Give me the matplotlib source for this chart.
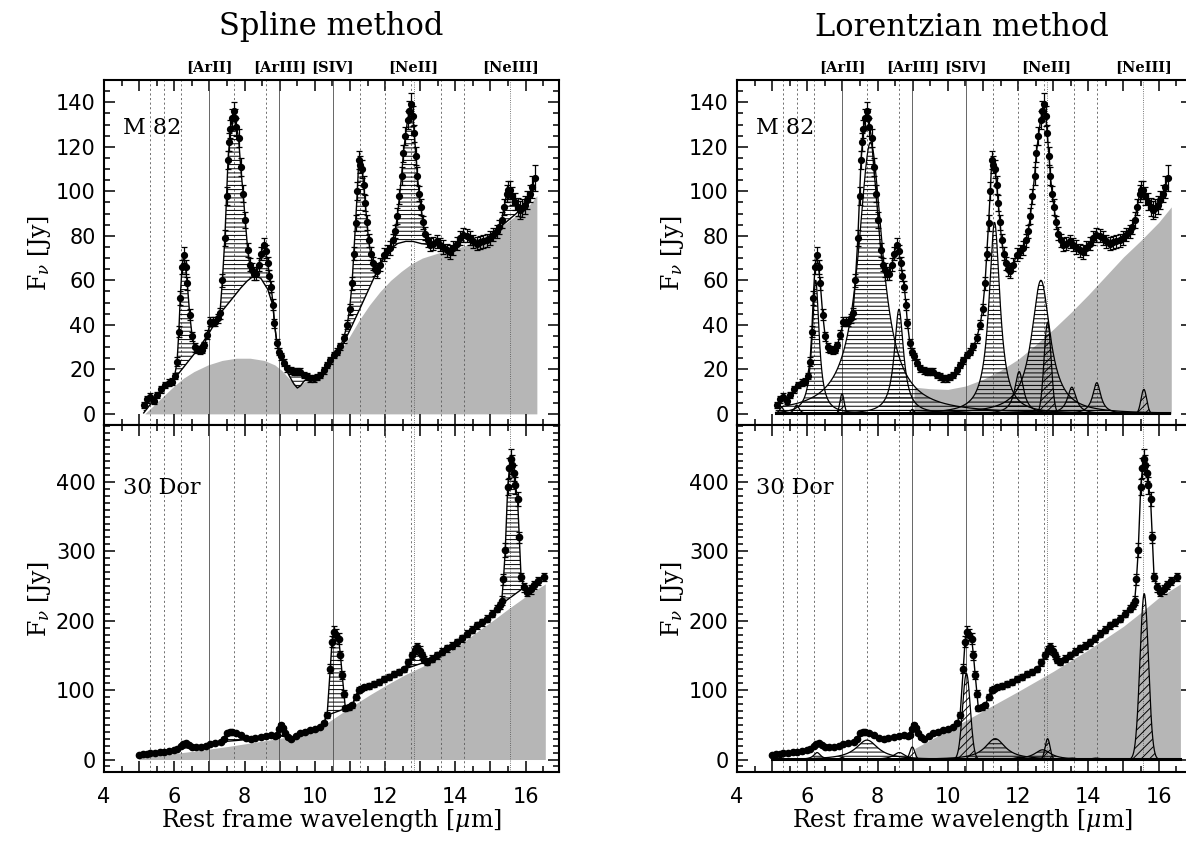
import numpy as np
import matplotlib
matplotlib.use('Agg')
import matplotlib.pyplot as plt
from matplotlib.ticker import MultipleLocator, FuncFormatter
import matplotlib.transforms as mtrans

plt.rcParams['hatch.linewidth'] = 0.7
plt.rcParams['font.family'] = 'DejaVu Sans'
plt.rcParams['mathtext.fontset'] = 'dejavuserif'

# ---------------- data: M 82 ----------------
m82_wave = [5.13, 5.23, 5.32, 5.42, 5.51, 5.63, 5.75, 5.86, 5.94, 6.01,
            6.08, 6.13, 6.17, 6.22, 6.27, 6.32, 6.37, 6.44, 6.51, 6.58,
            6.65, 6.72, 6.79, 6.86, 6.94, 7.03, 7.10, 7.17, 7.24, 7.30,
            7.37, 7.44, 7.49, 7.53, 7.57, 7.60, 7.65, 7.69, 7.73, 7.77,
            7.83, 7.89, 7.96, 8.02, 8.09, 8.15, 8.21, 8.28, 8.34, 8.41,
            8.47, 8.54, 8.60, 8.66, 8.71, 8.76, 8.81, 8.85, 8.92, 8.98,
            9.04, 9.12, 9.21, 9.31, 9.40, 9.50, 9.59, 9.68, 9.78, 9.87,
            9.97, 10.06, 10.16, 10.26, 10.35, 10.44, 10.54, 10.63, 10.73, 10.82,
            10.92, 10.99, 11.06, 11.11, 11.16, 11.21, 11.25, 11.30, 11.35, 11.39,
            11.44, 11.49, 11.53, 11.59, 11.66, 11.72, 11.77, 11.86, 11.96, 12.06,
            12.15, 12.22, 12.29, 12.35, 12.41, 12.47, 12.52, 12.58, 12.64, 12.69,
            12.74, 12.79, 12.83, 12.88, 12.92, 12.97, 13.02, 13.08, 13.14, 13.21,
            13.28, 13.37, 13.47, 13.56, 13.66, 13.76, 13.85, 13.94, 14.04, 14.14,
            14.23, 14.33, 14.42, 14.51, 14.61, 14.70, 14.80, 14.89, 14.99, 15.08,
            15.18, 15.25, 15.32, 15.39, 15.46, 15.51, 15.55, 15.62, 15.70, 15.77,
            15.84, 15.91, 15.98, 16.05, 16.12, 16.19, 16.26]
m82_flux = [4.0, 6.5, 7.8, 6.0, 8.5, 11.0, 13.0, 14.0, 14.5, 17.0,
            23.5, 37.0, 52.0, 66.0, 71.5, 66.0, 58.7, 44.5, 34.8, 30.0,
            28.8, 28.5, 28.8, 31.0, 35.5, 41.5, 41.5, 41.5, 43.0, 45.2,
            60.0, 79.0, 98.0, 114.0, 122.0, 128.0, 133.0, 136.0, 133.0, 129.0,
            124.0, 111.0, 99.0, 87.0, 73.7, 67.0, 64.7, 63.0, 63.0, 67.0,
            72.0, 76.0, 73.0, 67.7, 62.0, 57.2, 49.0, 40.8, 31.8, 28.0,
            25.8, 23.0, 20.5, 19.5, 19.0, 19.0, 19.0, 17.5, 16.8, 16.0,
            16.0, 16.5, 17.5, 19.5, 22.0, 24.0, 26.5, 28.0, 30.3, 34.0,
            40.0, 47.0, 58.7, 72.0, 85.7, 100.0, 114.0, 112.0, 110.0, 103.0,
            94.7, 86.0, 78.0, 72.0, 67.7, 65.0, 64.0, 67.0, 71.5, 73.0,
            74.5, 78.0, 82.0, 89.0, 97.7, 107.0, 117.0, 125.0, 132.0, 136.0,
            139.0, 134.0, 126.0, 116.0, 106.7, 99.0, 93.0, 86.0, 81.0, 78.0,
            76.0, 76.5, 77.5, 76.0, 75.0, 73.5, 72.7, 74.5, 76.5, 79.0,
            80.4, 80.0, 79.0, 77.5, 76.5, 77.0, 77.5, 78.0, 79.0, 80.5,
            82.0, 84.0, 87.0, 93.0, 99.0, 100.5, 100.6, 98.0, 95.4, 93.0,
            91.7, 92.5, 93.9, 96.0, 99.0, 102.0, 106.0]
m82_err = [1.5, 1.5, 1.5, 1.5, 1.5, 1.5, 1.5, 1.5, 1.5, 1.5,
           2, 2.5, 3, 3, 3.5, 3, 3, 2.5, 2, 2,
           1.5, 1.5, 1.5, 1.5, 2, 2, 2, 2, 2, 2.5,
           3, 3.5, 4, 4, 4, 4, 4, 4, 4, 4,
           4, 4, 4, 3.5, 3, 3, 3, 3, 3, 3,
           3, 3, 3, 3, 2.5, 2.5, 2.5, 2, 2, 1.5,
           1.5, 1.5, 1.5, 1.5, 1.5, 1.5, 1.5, 1.5, 1.5, 1.5,
           1.5, 1.5, 1.5, 1.5, 1.5, 1.5, 1.5, 1.5, 1.5, 2,
           2, 2.5, 3, 3, 3.5, 4, 4, 4, 4, 4,
           3.5, 3.5, 3, 3, 3, 3, 3, 3, 3, 3,
           3, 3, 3, 3.5, 3.5, 4, 4, 4, 4, 4.5,
           5, 4.5, 4, 4, 4, 3.5, 3.5, 3, 3, 3,
           3, 3, 3, 3, 3, 3, 3, 3, 3, 3,
           3, 3, 3, 3, 3, 3, 3, 3, 3, 3,
           3, 3, 3.5, 3.5, 4, 4, 4, 4, 4, 4,
           4, 4, 4, 4, 4, 5, 6]

# spline baseline (M 82)
m82_spl_x = [5.06, 5.50, 5.94, 6.65, 6.94, 7.17, 7.30, 7.56, 7.86, 8.06,
             8.26, 8.46, 8.66, 8.81, 8.85, 8.92, 8.98, 9.04, 9.12, 9.21,
             9.31, 9.40, 9.50, 9.59, 9.68, 9.78, 9.87, 10.06, 10.26, 10.54,
             10.73, 10.92, 11.16, 11.39, 11.59, 11.77, 11.96, 12.15, 12.35, 12.58,
             12.79, 13.02, 13.28, 13.47, 13.66, 13.85, 14.04, 14.23, 14.42, 14.61,
             14.80, 14.99, 15.18, 15.32, 15.51, 15.70, 15.84, 15.98, 16.12, 16.26]
m82_spl_y = [-1.0, 8.0, 14.5, 28.5, 35.0, 41.0, 45.0, 50.0, 56.0, 59.5,
             62.0, 61.0, 56.0, 48.5, 40.8, 31.8, 27.5, 25.0, 22.0, 19.0,
             16.0, 13.5, 11.6, 12.5, 14.5, 15.8, 16.0, 16.5, 19.5, 25.0,
             29.0, 35.0, 43.0, 51.0, 58.0, 64.0, 70.0, 74.0, 76.5, 77.5,
             77.5, 76.5, 76.0, 77.5, 75.0, 72.7, 76.5, 80.4, 79.0, 76.5,
             77.5, 79.0, 82.0, 84.5, 87.0, 89.5, 91.7, 93.9, 99.0, 106.0]
# continuum (grey), spline method, M 82
m82_cs_x = [5.16, 5.36, 5.66, 5.96, 6.26, 6.56, 6.96, 7.36, 7.76, 8.16,
            8.56, 8.86, 9.06, 9.26, 9.46, 9.56, 9.66, 9.86, 10.06, 10.36,
            10.66, 10.96, 11.26, 11.56, 11.86, 12.16, 12.46, 12.76, 13.06, 13.36,
            13.66, 13.96, 14.26, 14.56, 14.86, 15.16, 15.46, 15.76, 16.06, 16.32]
m82_cs_y = [0, 3, 7.5, 12, 16, 19, 22, 24, 25, 25,
            24, 22, 19.5, 16, 13, 12.5, 14, 15.5, 16, 21,
            27, 34, 42, 49, 55, 60, 64, 67.5, 70, 71.5,
            73, 74, 75.5, 77.5, 80, 83, 86, 89.5, 93, 98]
# continuum (grey), Lorentzian method, M 82
m82_cl_x = [9.04, 9.50, 10.00, 10.50, 11.00, 11.50, 12.00, 12.50, 13.00, 13.50,
            14.00, 14.50, 15.00, 15.50, 16.00, 16.36]
m82_cl_y = [12, 11.3, 11, 12.5, 15.5, 19.5, 24.5, 31, 38, 45.5,
            53.5, 62, 70.5, 78, 86, 93]
# Lorentzian (bands) and Gaussian (lines) components, M 82
m82_lor_c = [5.27, 5.70, 6.24, 7.80, 8.61, 11.33, 12.03, 12.65, 13.53, 14.24]
m82_lor_h = [3, 4, 60, 122, 47, 86, 19, 60, 12, 14]
m82_lor_w = [0.07, 0.08, 0.12, 0.42, 0.16, 0.19, 0.15, 0.32, 0.15, 0.14]
m82_gau_c = [6.99, 8.99, 12.84, 15.58]
m82_gau_h = [9, 2, 41, 11]
m82_gau_w = [0.06, 0.05, 0.10, 0.08]

# ---------------- data: 30 Dor ----------------
d30_wave = [4.99, 5.11, 5.21, 5.32, 5.46, 5.58, 5.70, 5.86, 5.98, 6.08,
            6.18, 6.26, 6.32, 6.41, 6.51, 6.61, 6.75, 6.89, 7.03, 7.16,
            7.32, 7.42, 7.51, 7.58, 7.65, 7.76, 7.89, 8.03, 8.17, 8.31,
            8.46, 8.61, 8.74, 8.86, 8.93, 8.99, 9.04, 9.10, 9.16, 9.24,
            9.31, 9.46, 9.59, 9.73, 9.87, 10.01, 10.16, 10.26, 10.35, 10.44,
            10.49, 10.54, 10.61, 10.68, 10.73, 10.78, 10.83, 10.87, 10.96, 11.06,
            11.16, 11.25, 11.32, 11.39, 11.53, 11.68, 11.82, 11.96, 12.11, 12.25,
            12.39, 12.53, 12.66, 12.76, 12.84, 12.91, 12.98, 13.05, 13.12, 13.19,
            13.33, 13.47, 13.61, 13.76, 13.90, 14.04, 14.18, 14.33, 14.47, 14.61,
            14.76, 14.90, 15.04, 15.18, 15.26, 15.32, 15.37, 15.42, 15.49, 15.54,
            15.58, 15.62, 15.66, 15.71, 15.77, 15.82, 15.87, 15.96, 16.04, 16.14,
            16.23, 16.36, 16.51]
d30_flux = [6.2, 7.5, 8.5, 9.6, 10.0, 10.5, 11.0, 12.5, 14.0, 15.8,
            19.0, 23.0, 24.0, 21.0, 18.0, 17.5, 18.0, 20.0, 22.0, 23.5,
            25.5, 30.0, 37.5, 40.0, 40.0, 37.5, 35.0, 31.0, 29.0, 31.0,
            33.0, 34.0, 35.0, 34.0, 35.0, 44.0, 49.4, 45.0, 37.5, 32.0,
            30.0, 34.0, 37.5, 40.0, 42.0, 44.0, 47.0, 53.0, 63.8, 131.0,
            170.0, 184.0, 180.0, 174.0, 150.0, 121.5, 95.0, 73.5, 75.0, 78.0,
            90.0, 100.0, 102.0, 104.0, 106.0, 108.5, 112.0, 116.0, 119.0, 123.0,
            126.0, 130.0, 140.0, 150.0, 158.0, 162.0, 157.0, 150.0, 144.0, 141.0,
            145.0, 150.0, 155.0, 160.0, 164.0, 169.0, 175.0, 181.5, 187.0, 193.5,
            198.0, 203.0, 210.0, 217.5, 222.0, 229.0, 260.0, 301.6, 392.8, 420.0,
            433.7, 425.0, 413.0, 395.0, 376.0, 320.0, 263.0, 248.0, 241.0, 245.0,
            251.0, 257.0, 263.0]
d30_err = [1.5, 1.5, 1.5, 1.5, 1.5, 1.5, 1.5, 1.5, 1.5, 1.5,
           1.5, 1.5, 1.5, 1.5, 1.5, 1.5, 1.5, 1.5, 1.5, 1.5,
           2, 2, 2, 2, 2, 2, 2, 2, 2, 2,
           2, 2, 2, 2, 2, 3, 3, 3, 2, 2,
           2, 2, 2, 2, 2, 2, 2, 3, 4, 6,
           8, 8, 8, 8, 6, 6, 5, 4, 4, 4,
           4, 4, 4, 4, 4, 4, 4, 4, 4, 4,
           4, 4, 5, 5, 6, 6, 6, 5, 5, 5,
           5, 5, 5, 5, 5, 5, 5, 5, 5, 5,
           5, 5, 5, 5, 5, 6, 8, 10, 12, 14,
           14, 14, 12, 12, 10, 8, 6, 6, 6, 6,
           6, 6, 6]
# spline baseline: straight segments under these feature windows
d30_spl_windows = [(6.08, 6.61), (7.32, 8.17), (8.93, 9.24), (10.35, 10.87),
                   (12.53, 13.19), (15.26, 15.96)]
# continuum (grey), spline method, 30 Dor
d30_cs_x = [4.99, 5.56, 6.06, 6.56, 7.06, 7.56, 8.06, 8.56, 9.06, 9.56,
            10.06, 10.56, 11.06, 11.56, 12.06, 12.56, 13.06, 13.56, 14.06, 14.56,
            15.06, 15.56, 16.06, 16.56]
d30_cs_y = [3, 6, 9, 12, 15.5, 19, 23, 27, 31, 35,
            43, 60, 77, 93, 108, 122, 134, 148, 163, 182,
            200, 219, 237, 253]
# continuum (grey), Lorentzian method, 30 Dor
d30_cl_x = [9.06, 10.0, 11.0, 12.0, 13.0, 14.0, 15.0, 15.5, 16.0, 16.62]
d30_cl_y = [16, 42, 70, 98, 127, 158, 192, 212, 233, 253]
d30_lor_c = [6.28, 7.70, 8.62, 11.35, 12.03, 12.70, 13.55, 14.22]
d30_lor_h = [10, 28, 10, 30, 3, 14, 2, 2]
d30_lor_w = [0.12, 0.38, 0.20, 0.35, 0.15, 0.28, 0.15, 0.15]
d30_gau_c = [6.99, 8.99, 10.53, 12.84, 15.59]
d30_gau_h = [3, 18, 124, 30, 239]
d30_gau_w = [0.06, 0.07, 0.11, 0.07, 0.12]

# feature positions
pah_lines = [5.30, 5.70, 6.20, 7.70, 8.60, 11.30, 12.00, 12.75, 13.60, 14.25]
ion_lines = [6.99, 8.99, 10.51, 12.81, 15.56]
ion_names = ['[ArII]', '[ArIII]', '[SIV]', '[NeII]', '[NeIII]']

GREY = '#b6b6b6'
SERIF = 'DejaVu Serif'

# ---------------- figure ----------------
W, H = 1186, 844
fig = plt.figure(figsize=(W / 100, H / 100), dpi=100)


def box(l, t, w, h):
    return [l / W, 1 - (t + h) / H, w / W, h / H]


ax_tl = fig.add_axes(box(104, 80, 455, 345))
ax_bl = fig.add_axes(box(104, 425, 455, 347))
ax_tr = fig.add_axes(box(737, 80, 455, 345))
ax_br = fig.add_axes(box(737, 425, 455, 347))


def style(ax, top):
    ax.set_xlim(4, 16.95)
    if top:
        ax.set_ylim(-5, 150)
        ax.yaxis.set_major_locator(MultipleLocator(20))
        ax.yaxis.set_minor_locator(MultipleLocator(5))
    else:
        ax.set_ylim(-18, 482)
        ax.yaxis.set_major_locator(MultipleLocator(100))
        ax.yaxis.set_minor_locator(MultipleLocator(10))
    ax.xaxis.set_major_locator(MultipleLocator(1))
    ax.xaxis.set_minor_locator(MultipleLocator(0.5))
    ax.xaxis.set_major_formatter(FuncFormatter(
        lambda v, p: f'{int(round(v))}' if int(round(v)) % 2 == 0 else ''))
    ax.tick_params(which='both', direction='in', top=True, right=True,
                   width=1.1, labelsize=15)
    ax.tick_params(which='major', length=8)
    ax.tick_params(which='minor', length=4)
    ax.tick_params(axis='x', pad=11)
    ax.tick_params(axis='y', pad=6)
    if top:
        ax.tick_params(axis='x', labelbottom=False)
    for s in ax.spines.values():
        s.set_linewidth(1.5)
    for wl in pah_lines:
        ax.axvline(wl, color='0.35', lw=0.6, ls=(0, (2.5, 3)), zorder=2)
    for wl, nm in zip(ion_lines, ion_names):
        ls = ':' if nm in ('[NeII]', '[NeIII]') else '-'
        ax.axvline(wl, color='0.3', lw=0.6, ls=ls, zorder=2)
    ax.text(-0.141, 0.5, r'F$_\nu$ [Jy]', transform=ax.transAxes, rotation=90,
            ha='center', va='center', fontsize=17, family=SERIF)


for ax, top in ((ax_tl, True), (ax_bl, False), (ax_tr, True), (ax_br, False)):
    style(ax, top)

for ax in (ax_tl, ax_tr):
    tr = mtrans.blended_transform_factory(ax.transData, ax.transAxes)
    for wl, nm in zip(ion_lines, ion_names):
        ax.text(wl, 1.038, nm, transform=tr, ha='center', va='center',
                fontsize=10.5, fontweight='bold', family=SERIF)


def data_points(ax, w, f, e, ms):
    ax.errorbar(w, f, yerr=e, fmt='o-', color='k', ms=ms, lw=1.0,
                elinewidth=0.9, capsize=2.5, capthick=0.9, zorder=6)


def hatch_between(ax, w, f, bx, by):
    xs = np.linspace(min(w), max(w), 4000)
    yd = np.interp(xs, w, f)
    yb = np.interp(xs, bx, by)
    ax.fill_between(xs, yb, yd, where=yd > yb, interpolate=True,
                    facecolor='none', edgecolor='k', hatch='----', lw=0, zorder=3)
    ax.plot(xs, yb, color='k', lw=1.0, zorder=4)


def components(ax, xmin, xmax, lc, lh, lw_, gc, gh, gw):
    xs = np.linspace(xmin, xmax, 3000)
    for c, h, g in zip(lc, lh, lw_):
        y = h / (1 + ((xs - c) / g) ** 2)
        ax.fill_between(xs, 0, y, facecolor='none', edgecolor='k', hatch='----',
                        lw=0, zorder=3)
        ax.plot(xs, y, color='k', lw=0.9, zorder=4)
    for c, h, s in zip(gc, gh, gw):
        y = h * np.exp(-0.5 * ((xs - c) / s) ** 2)
        ax.fill_between(xs, 0, y, facecolor='none', edgecolor='k', hatch='////',
                        lw=0, zorder=3)
        ax.plot(xs, y, color='k', lw=0.9, zorder=4)
    ax.plot([xmin, xmax], [0.6, 0.6], color='k', lw=2.2, zorder=4)


# --- Spline, M 82
ax_tl.fill_between(m82_cs_x, 0, m82_cs_y, color=GREY, lw=0, zorder=1)
hatch_between(ax_tl, m82_wave, m82_flux, m82_spl_x, m82_spl_y)
data_points(ax_tl, m82_wave, m82_flux, m82_err, 4.2)

# --- Spline, 30 Dor
ax_bl.fill_between(d30_cs_x, 0, d30_cs_y, color=GREY, lw=0, zorder=1)
w30 = np.array(d30_wave)
f30 = np.array(d30_flux)
base30 = f30.copy()
for a, b in d30_spl_windows:
    m = (w30 >= a - 1e-6) & (w30 <= b + 1e-6)
    fa = f30[np.argmin(abs(w30 - a))]
    fb = f30[np.argmin(abs(w30 - b))]
    base30[m] = np.interp(w30[m], [a, b], [fa, fb])
hatch_between(ax_bl, d30_wave, d30_flux, w30, base30)
data_points(ax_bl, d30_wave, d30_flux, d30_err, 4.5)

# --- Lorentzian, M 82
ax_tr.fill_between(m82_cl_x, 0, m82_cl_y, color=GREY, lw=0, zorder=1)
components(ax_tr, 5.1, 16.3, m82_lor_c, m82_lor_h, m82_lor_w,
           m82_gau_c, m82_gau_h, m82_gau_w)
data_points(ax_tr, m82_wave, m82_flux, m82_err, 4.2)

# --- Lorentzian, 30 Dor
ax_br.fill_between(d30_cl_x, 0, d30_cl_y, color=GREY, lw=0, zorder=1)
components(ax_br, 4.99, 16.6, d30_lor_c, d30_lor_h, d30_lor_w,
           d30_gau_c, d30_gau_h, d30_gau_w)
data_points(ax_br, d30_wave, d30_flux, d30_err, 4.5)

# object labels
for ax in (ax_tl, ax_tr):
    ax.text(0.042, 0.861, 'M 82', transform=ax.transAxes, ha='left', va='center',
            fontsize=16, family=SERIF, zorder=7)
for ax in (ax_bl, ax_br):
    ax.text(0.042, 0.818, '30 Dor', transform=ax.transAxes, ha='left', va='center',
            fontsize=16, family=SERIF, zorder=7)

# titles and x labels
fig.text(331 / W, 1 - 27 / H, 'Spline method', ha='center', va='center',
         fontsize=22, family=SERIF)
fig.text(962 / W, 1 - 27 / H, 'Lorentzian method', ha='center', va='center',
         fontsize=22, family=SERIF)
for cx in (331, 962):
    fig.text(cx / W, 1 - 820 / H, r'Rest frame wavelength [$\mu$m]', ha='center',
             va='center', fontsize=17, family=SERIF)

fig.savefig('out.png', dpi=100)
